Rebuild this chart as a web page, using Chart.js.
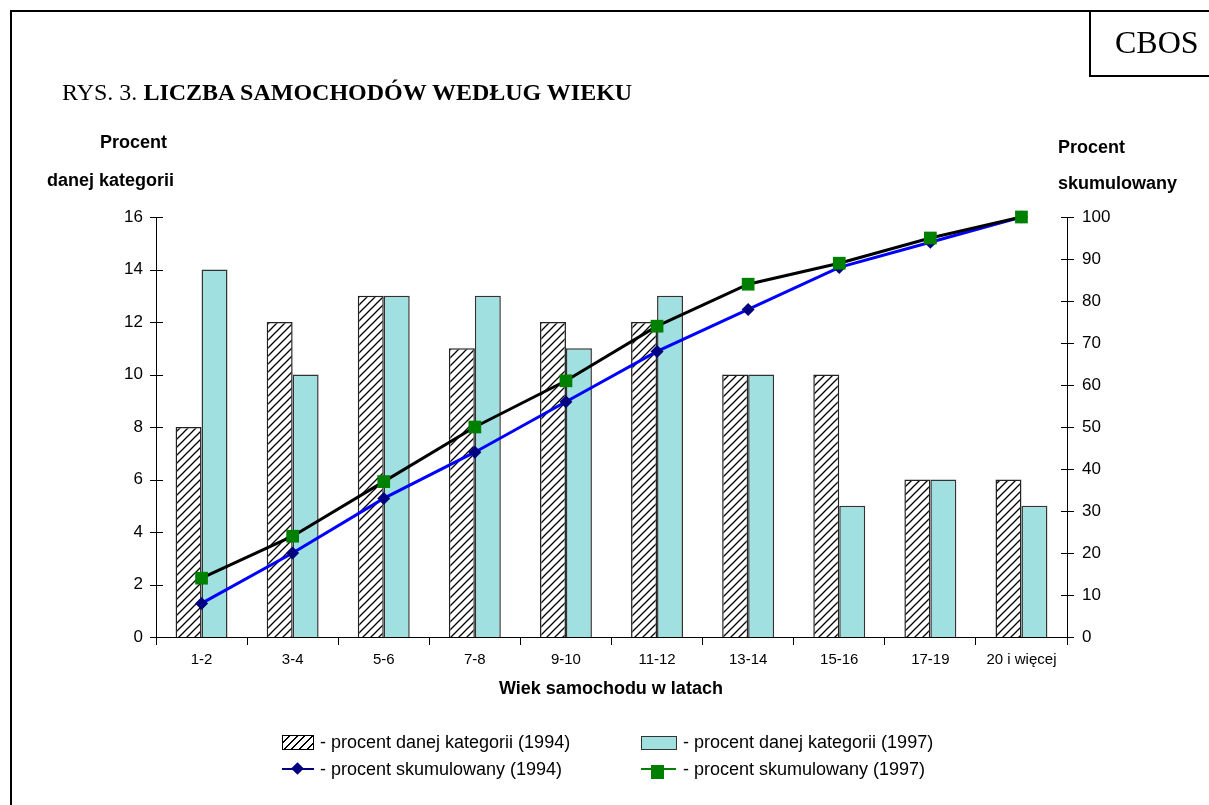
<!DOCTYPE html>
<html>
<head>
<meta charset="utf-8">
<script src="https://cdn.jsdelivr.net/npm/chart.js@4.4.1/dist/chart.umd.min.js"></script>
<style>
  html, body { margin: 0; padding: 0; background: #fff; }
  #page { position: relative; width: 1209px; height: 805px; overflow: hidden; font-family: "Liberation Sans", Arial, sans-serif; color: #000; }
  #page canvas { position: absolute; left: 0; top: 0; }
  .abs { position: absolute; white-space: nowrap; line-height: 22px; }
  .frame-top { position: absolute; left: 10px; top: 10px; width: 1199px; height: 2px; background: #000; }
  .frame-left { position: absolute; left: 10px; top: 10px; width: 2px; height: 800px; background: #000; }
  .cbos { position: absolute; left: 1089px; top: 10px; width: 120px; height: 65px; border-left: 2px solid #000; border-bottom: 2px solid #000; }
  .cbos span { position: absolute; left: 24px; top: 15px; font: 32px "Liberation Serif", "Times New Roman", serif; line-height: 34px; }
  .title { font: 24px "Liberation Serif", "Times New Roman", serif; left: 62px; top: 79px; line-height: 26px; }
  .ax { font-weight: bold; font-size: 18px; }
  .leg { font-size: 18px; }
  .sw-hatch { position: absolute; left: 282px; top: 735px; width: 30px; height: 13px; border: 1px solid #000;
    background: repeating-linear-gradient(135deg, #fff 0px, #fff 4px, #000 4px, #000 5.4px); }
  .sw-teal { position: absolute; left: 641px; top: 736px; width: 34px; height: 12px; border: 1px solid #333; background: #a0e0e0; }
  .sw-line1 { position: absolute; left: 282px; top: 768px; width: 32px; height: 2px; background: #000080; }
  .sw-dia { position: absolute; left: 293px; top: 764px; width: 9px; height: 9px; background: #000080; transform: rotate(45deg); }
  .sw-line2 { position: absolute; left: 641px; top: 768px; width: 35px; height: 2px; background: #008000; }
  .sw-sq { position: absolute; left: 651px; top: 765px; width: 13px; height: 14px; background: #008000; }
</style>
</head>
<body>
<div id="page">
  <canvas id="chart" width="1209" height="805"></canvas>
  <div class="frame-top"></div>
  <div class="frame-left"></div>
  <div class="cbos"><span>CBOS</span></div>
  <div class="abs title">RYS. 3. <b>LICZBA SAMOCHODÓW WEDŁUG WIEKU</b></div>
  <div class="abs ax" style="left:100px; top:131px;">Procent</div>
  <div class="abs ax" style="left:47px; top:169px;">danej kategorii</div>
  <div class="abs ax" style="left:1058px; top:136px;">Procent</div>
  <div class="abs ax" style="left:1058px; top:172px;">skumulowany</div>
  <div class="abs ax" style="left:499px; top:677px;">Wiek samochodu w latach</div>

  <div class="sw-hatch"></div>
  <div class="abs leg" style="left:320px; top:731px;">- procent danej kategorii (1994)</div>
  <div class="sw-teal"></div>
  <div class="abs leg" style="left:683px; top:731px;">- procent danej kategorii (1997)</div>
  <div class="sw-line1"></div><div class="sw-dia"></div>
  <div class="abs leg" style="left:320px; top:758px;">- procent skumulowany (1994)</div>
  <div class="sw-line2"></div><div class="sw-sq"></div>
  <div class="abs leg" style="left:683px; top:758px;">- procent skumulowany (1997)</div>
</div>

<script>
// Dane
const categories = ["1-2", "3-4", "5-6", "7-8", "9-10", "11-12", "13-14", "15-16", "17-19", "20 i więcej"];
const share1994 = [8, 12, 13, 11, 12, 12, 10, 10, 6, 6];
const share1997 = [14, 10, 13, 13, 11, 13, 10, 5, 6, 5];
const cumul1994 = [8, 20, 33, 44, 56, 68, 78, 88, 94, 100];
const cumul1997 = [14, 24, 37, 50, 61, 74, 84, 89, 95, 100];
const leftTicks = [0, 2, 4, 6, 8, 10, 12, 14, 16];
const rightTicks = [0, 10, 20, 30, 40, 50, 60, 70, 80, 90, 100];

// Kreskowanie słupków 1994
function makeHatch() {
  const n = 8;
  const c = document.createElement("canvas");
  c.width = n;
  c.height = n;
  const g = c.getContext("2d");
  g.fillStyle = "#fff";
  g.fillRect(0, 0, n, n);
  g.strokeStyle = "#000";
  g.lineWidth = 1.3;
  g.beginPath();
  g.moveTo(-1, n + 1); g.lineTo(n + 1, -1);
  g.moveTo(-1, 1); g.lineTo(1, -1);
  g.moveTo(n - 1, n + 1); g.lineTo(n + 1, n - 1);
  g.stroke();
  return g.createPattern(c, "repeat");
}
const ctx = document.getElementById("chart").getContext("2d");
const hatch = makeHatch();

// Kreski podziałki przecinające oś
const crossTicks = {
  id: "crossTicks",
  afterDraw(chart) {
    const g = chart.ctx;
    g.save();
    g.strokeStyle = "#000";
    g.lineWidth = 1;
    [["y", leftTicks], ["y1", rightTicks]].forEach(([id, vals]) => {
      const s = chart.scales[id];
      const x = id === "y" ? s.right : s.left;
      vals.forEach((v) => {
        const y = Math.round(s.getPixelForValue(v)) + 0.5;
        g.beginPath();
        g.moveTo(x - 6, y);
        g.lineTo(x + 7, y);
        g.stroke();
      });
    });
    g.restore();
  },
};

new Chart(ctx, {
  data: {
    labels: categories,
    datasets: [
      {
        type: "line",
        label: "procent skumulowany (1994)",
        data: cumul1994,
        yAxisID: "y1",
        borderColor: "#0000ff",
        borderWidth: 3,
        pointStyle: "rectRot",
        pointRadius: 6.5,
        pointBackgroundColor: "#000080",
        pointBorderColor: "#000080",
        pointBorderWidth: 0,
        tension: 0,
        clip: false,
        order: 1,
      },
      {
        type: "line",
        label: "procent skumulowany (1997)",
        data: cumul1997,
        yAxisID: "y1",
        borderColor: "#000",
        borderWidth: 3,
        pointStyle: "rect",
        pointRadius: 9,
        pointBackgroundColor: "#008000",
        pointBorderColor: "#008000",
        pointBorderWidth: 0,
        tension: 0,
        clip: false,
        order: 0,
      },
      {
        type: "bar",
        label: "procent danej kategorii (1994)",
        data: share1994,
        yAxisID: "y",
        backgroundColor: hatch,
        borderColor: "#222",
        borderWidth: 1.5,
        categoryPercentage: 0.57,
        barPercentage: 1,
        order: 2,
      },
      {
        type: "bar",
        label: "procent danej kategorii (1997)",
        data: share1997,
        yAxisID: "y",
        backgroundColor: "#a0e0e0",
        borderColor: "#333",
        borderWidth: 1.5,
        categoryPercentage: 0.57,
        barPercentage: 1,
        order: 3,
      },
    ],
  },
  options: {
    responsive: false,
    animation: false,
    devicePixelRatio: 1,
    layout: { padding: { top: 217, left: 0, right: 0, bottom: 0 } },
    plugins: { legend: { display: false }, tooltip: { enabled: false } },
    scales: {
      x: {
        grid: { drawOnChartArea: false, tickLength: 8, color: "#000", offset: true },
        border: { color: "#000", width: 1 },
        ticks: { color: "#000", font: { family: "Liberation Sans", size: 15 }, padding: 6, maxRotation: 0, autoSkip: false },
        afterFit: (s) => { s.height = 168; },
      },
      y: {
        position: "left",
        min: 0,
        max: 16,
        grid: { display: false, drawTicks: false },
        border: { color: "#000", width: 1 },
        ticks: { stepSize: 2, color: "#000", font: { family: "Liberation Sans", size: 17 }, padding: 13 },
        afterFit: (s) => { s.width = 156; },
      },
      y1: {
        position: "right",
        min: 0,
        max: 100,
        grid: { display: false, drawTicks: false },
        border: { color: "#000", width: 1 },
        ticks: { stepSize: 10, color: "#000", font: { family: "Liberation Sans", size: 17 }, padding: 15 },
        afterFit: (s) => { s.width = 142; },
      },
    },
  },
  plugins: [crossTicks],
});
</script>
</body>
</html>
